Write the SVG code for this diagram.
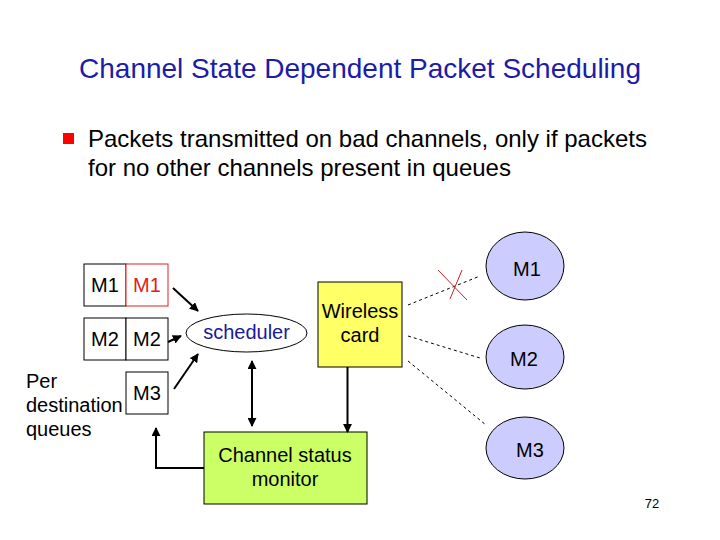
<svg xmlns="http://www.w3.org/2000/svg" width="720" height="540" viewBox="0 0 720 540">
<defs>
<style>
text{font-family:"Liberation Sans",Arial,sans-serif;fill:#000}
.t20{font-size:20px}
.ctr{text-anchor:middle}
.box{fill:#fff;stroke:#000;stroke-width:1}
.con{stroke:#000;stroke-width:2;fill:none}
.dash{stroke:#000;stroke-width:1;stroke-dasharray:3,3;fill:none}
.cell{fill:#ccccff;stroke:#000;stroke-width:1}
</style>
<marker id="ah" viewBox="0 0 10 10" refX="9" refY="5" markerWidth="4.5" markerHeight="4.5" orient="auto-start-reverse">
<path d="M0,0 L10,5 L0,10 z" fill="#000"/>
</marker>
</defs>
<rect width="720" height="540" fill="#fff"/>
<text x="360" y="78" class="ctr" style="font-size:28px;fill:#1c1caa">Channel State Dependent Packet Scheduling</text>
<rect x="63" y="133" width="11" height="11" fill="#ff0000"/>
<text x="88" y="147" style="font-size:24px">Packets transmitted on bad channels, only if packets</text>
<text x="88" y="176" style="font-size:24px">for no other channels present in queues</text>

<g id="queue-m1">
<rect x="84" y="264" width="42" height="42" class="box"/>
<rect x="126" y="264" width="42" height="42" fill="#fff" stroke="#e02020" stroke-width="1"/>
<text x="105" y="292" class="t20 ctr">M1</text>
<text x="147" y="292" class="t20 ctr" style="fill:#e02020">M1</text>
</g>
<g id="queue-m2">
<rect x="84" y="318" width="42" height="42" class="box"/>
<rect x="126" y="318" width="42" height="42" class="box"/>
<text x="105" y="346" class="t20 ctr">M2</text>
<text x="147" y="346" class="t20 ctr">M2</text>
</g>
<g id="queue-m3">
<rect x="126" y="372" width="42" height="42" class="box"/>
<text x="147" y="400" class="t20 ctr">M3</text>
</g>
<g id="label-queues">
<text x="26" y="388" class="t20">Per</text>
<text x="26" y="412" class="t20">destination</text>
<text x="26" y="436" class="t20">queues</text>
</g>
<g id="scheduler">
<ellipse cx="246.5" cy="333" rx="60.5" ry="19" fill="#fff" stroke="#000" stroke-width="1"/>
<text x="246.5" y="339" class="t20 ctr" style="fill:#1a1a9a">scheduler</text>
</g>
<g id="wireless-card">
<rect x="318" y="282" width="84" height="85" fill="#ffff66" stroke="#000" stroke-width="1"/>
<text x="360" y="318" class="t20 ctr">Wireless</text>
<text x="360" y="342" class="t20 ctr">card</text>
</g>
<g id="channel-status-monitor">
<rect x="204" y="432" width="163" height="72" fill="#ccff66" stroke="#000" stroke-width="1"/>
<text x="285" y="462" class="t20 ctr">Channel status</text>
<text x="285" y="486" class="t20 ctr">monitor</text>
</g>
<g id="mobile-m1">
<ellipse cx="525" cy="266" rx="39" ry="34" class="cell"/>
<text x="527" y="276" class="t20 ctr">M1</text>
</g>
<g id="mobile-m2">
<ellipse cx="525" cy="357" rx="39" ry="32" class="cell"/>
<text x="524" y="366" class="t20 ctr">M2</text>
</g>
<g id="mobile-m3">
<ellipse cx="525" cy="448" rx="39" ry="31" class="cell"/>
<text x="530" y="457" class="t20 ctr">M3</text>
</g>
<g id="connectors">
<line x1="173" y1="288" x2="198" y2="311" class="con" marker-end="url(#ah)"/>
<line x1="168" y1="342" x2="181" y2="336" class="con" marker-end="url(#ah)"/>
<line x1="174" y1="389" x2="198" y2="354" class="con" marker-end="url(#ah)"/>
<line x1="252" y1="361" x2="252" y2="426" class="con" marker-start="url(#ah)" marker-end="url(#ah)"/>
<line x1="347.5" y1="367" x2="347.5" y2="432" class="con" marker-end="url(#ah)"/>
<polyline points="204,468 156,468 156,428" class="con" marker-end="url(#ah)"/>
<line x1="408" y1="305" x2="480" y2="276" class="dash"/>
<line x1="408" y1="336" x2="480" y2="358" class="dash"/>
<line x1="408" y1="361" x2="486" y2="425" class="dash"/>
<line x1="438" y1="270" x2="467" y2="300" stroke="#cc2222" stroke-width="1"/>
<line x1="462" y1="270" x2="450" y2="299" stroke="#cc2222" stroke-width="1"/>
</g>
<text x="652" y="508" class="ctr" style="font-size:13px">72</text>
</svg>
